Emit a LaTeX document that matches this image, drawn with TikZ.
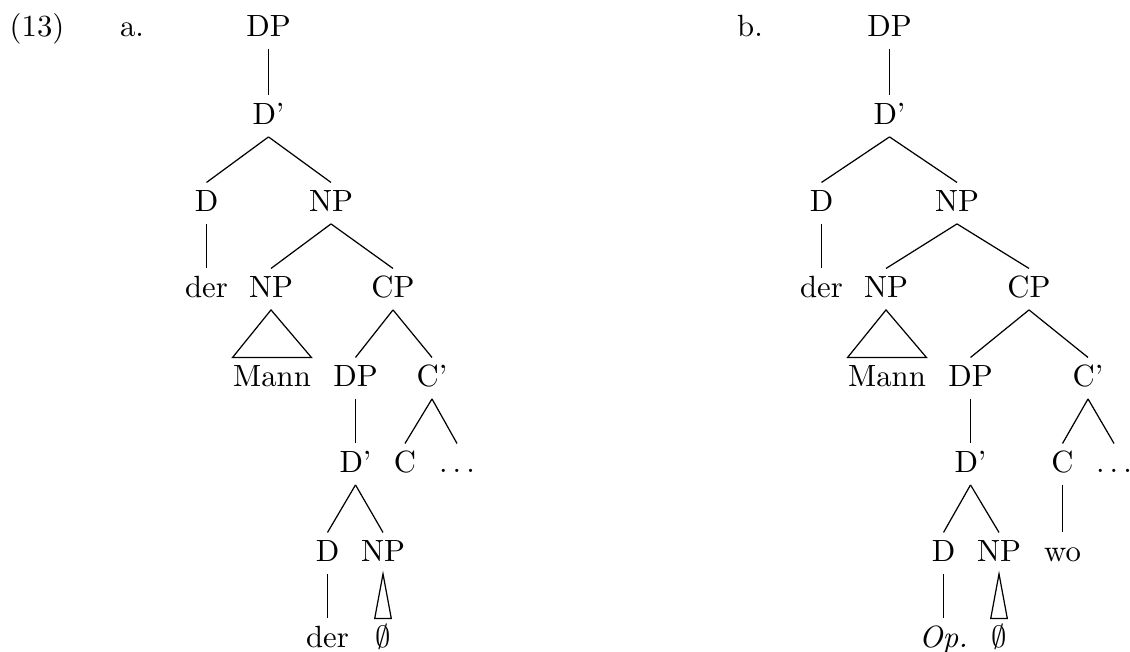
\documentclass[tikz,border=0pt]{standalone}
\begin{document}
\begin{tikzpicture}[x=0.3257pt, y=-0.3257pt,
  lab/.style={anchor=base, inner sep=0pt, text height=9.1pt, text depth=4pt},
  branch/.style={line width=0.4pt},
  roof/.style={line width=0.4pt, line join=miter}]
\useasboundingbox (0,0) rectangle (1130,651);

% example number and sub-labels
\node[lab] (exnum) at (37,36) {(13)};
\node[lab] (suba)  at (132,36) {a.};
\node[lab] (subb)  at (750,36) {b.};

% ---------- tree a ----------
\node[lab] (aDP)    at (268.5,36)  {DP};
\node[lab] (aDbar)  at (268.5,124) {D'};
\node[lab] (aD)     at (206.5,211) {D};
\node[lab] (aNP)    at (331,211) {NP};
\node[lab] (ader)   at (206.5,297) {der};
\node[lab] (aNPm)   at (271,297) {NP};
\node[lab] (aCP)    at (393,297) {CP};
\node[lab] (aMann)  at (272,386) {Mann};
\node[lab] (aDPs)   at (355.5,386) {DP};
\node[lab] (aCbar)  at (432,386) {C'};
\node[lab] (aDbars) at (355.5,472) {D'};
\node[lab] (aC)     at (405,472) {C};
\node[lab] (adots)  at (457,472) {$\ldots$};
\node[lab] (aDs)    at (327.5,561) {D};
\node[lab] (aNPs)   at (383,561) {NP};
\node[lab] (aders)  at (327.5,647) {der};
\node[lab] (aemp)   at (383,647) {$\emptyset$};

\draw[branch] (aDP.south) -- (aDbar.north);
\draw[branch] (aDbar.south) -- (aD.north);
\draw[branch] (aDbar.south) -- (aNP.north);
\draw[branch] (aD.south) -- (ader.north);
\draw[branch] (aNP.south) -- (aNPm.north);
\draw[branch] (aNP.south) -- (aCP.north);
\draw[roof] (aNPm.south) -- (aMann.north west) -- (aMann.north east) -- cycle;
\draw[branch] (aCP.south) -- (aDPs.north);
\draw[branch] (aCP.south) -- (aCbar.north);
\draw[branch] (aDPs.south) -- (aDbars.north);
\draw[branch] (aCbar.south) -- (aC.north);
\draw[branch] (aCbar.south) -- (adots.north);
\draw[branch] (aDbars.south) -- (aDs.north);
\draw[branch] (aDbars.south) -- (aNPs.north);
\draw[branch] (aDs.south) -- (aders.north);
\draw[roof] (aNPs.south) -- (aemp.north west) -- (aemp.north east) -- cycle;

% ---------- tree b ----------
\node[lab] (bDP)    at (889.5,36)  {DP};
\node[lab] (bDbar)  at (889.5,124) {D'};
\node[lab] (bD)     at (821.5,211) {D};
\node[lab] (bNP)    at (957,211) {NP};
\node[lab] (bder)   at (821.5,297) {der};
\node[lab] (bNPm)   at (886,297) {NP};
\node[lab] (bCP)    at (1029,297) {CP};
\node[lab] (bMann)  at (887,386) {Mann};
\node[lab] (bDPs)   at (970.5,386) {DP};
\node[lab] (bCbar)  at (1088,386) {C'};
\node[lab] (bDbars) at (970.5,472) {D'};
\node[lab] (bC)     at (1062.5,472) {C};
\node[lab] (bdots)  at (1114,472) {$\ldots$};
\node[lab] (bDs)    at (943.5,561) {D};
\node[lab] (bNPs)   at (999,561) {NP};
\node[lab] (bwo)    at (1062.5,561) {wo};
\node[lab] (bOp)    at (943.5,647) {\textit{Op.}};
\node[lab] (bemp)   at (999,647) {$\emptyset$};

\draw[branch] (bDP.south) -- (bDbar.north);
\draw[branch] (bDbar.south) -- (bD.north);
\draw[branch] (bDbar.south) -- (bNP.north);
\draw[branch] (bD.south) -- (bder.north);
\draw[branch] (bNP.south) -- (bNPm.north);
\draw[branch] (bNP.south) -- (bCP.north);
\draw[roof] (bNPm.south) -- (bMann.north west) -- (bMann.north east) -- cycle;
\draw[branch] (bCP.south) -- (bDPs.north);
\draw[branch] (bCP.south) -- (bCbar.north);
\draw[branch] (bDPs.south) -- (bDbars.north);
\draw[branch] (bCbar.south) -- (bC.north);
\draw[branch] (bCbar.south) -- (bdots.north);
\draw[branch] (bC.south) -- (bwo.north);
\draw[branch] (bDbars.south) -- (bDs.north);
\draw[branch] (bDbars.south) -- (bNPs.north);
\draw[branch] (bDs.south) -- (bOp.north);
\draw[roof] (bNPs.south) -- (bemp.north west) -- (bemp.north east) -- cycle;
\end{tikzpicture}
\end{document}
